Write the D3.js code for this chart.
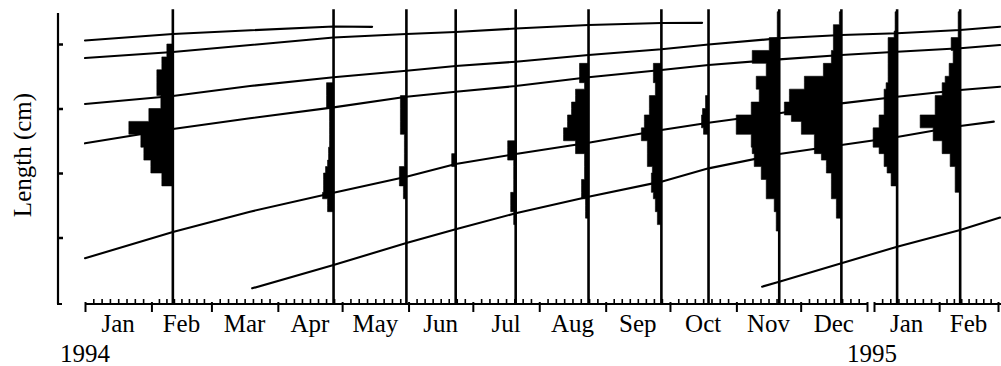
<!DOCTYPE html>
<html><head><meta charset="utf-8">
<script src="https://cdn.jsdelivr.net/npm/d3@7"></script>
<style>
html,body{margin:0;padding:0;background:#fff;}
svg{display:block;}
text{font-family:"Liberation Serif","Times New Roman",serif;font-size:25px;fill:#000;}
</style></head><body>
<svg id="chart" width="1001" height="366"></svg>
<script>
// ---------- data ----------
const monthLabels = ["Jan","Feb","Mar","Apr","May","Jun","Jul","Aug","Sep","Oct","Nov","Dec","Jan","Feb"];
const monthStarts = ["1994-01-01","1994-02-01","1994-03-01","1994-04-01","1994-05-01","1994-06-01",
  "1994-07-01","1994-08-01","1994-09-01","1994-10-01","1994-11-01","1994-12-01","1995-01-01","1995-02-01"];
const periodEnd = "1995-03-01";
const yearLabels = ["1994","1995"];
const yearDates = ["1994-01-01","1995-01-01"];
const lengthTicks = [5,10,15,20];
const yAxisLabel = "Length (cm)";

const sampleDates = ["1994-02-11","1994-04-27","1994-05-31","1994-06-23","1994-07-21","1994-08-24",
  "1994-09-27","1994-10-19","1994-11-21","1994-12-20","1995-01-12","1995-02-11"];
const binWidth = 0.5;
// lower edge (cm) of the first length class of each sample
const histStart = [9.0, 7.0, 8.0, 10.5, 6.0, 6.5, 6.0, 13.0, 5.5, 6.5, 9.0, 8.5];
// frequencies per 0.5 cm class, from small to large
const freq_1994_02 = [11,11,22,22,29,29,32,32,44,44,24,24,12,12,16,16,16,16,11,11,6,6];
const freq_1994_04 = [6,6,11,10,10,10,8,6,5,5,4,4,4,4,4,4,7,7,7,7];
const freq_1994_05 = [3,3,7,7,7,2,2,2,2,2,6,6,6,6,6,6];
const freq_1994_06 = [4,4];
const freq_1994_07 = [2,2,5,5,5,2,2,2,2,2,8,8,8];
const freq_1994_08 = [3,3,3,7,7,7,4,4,4,4,13,13,25,25,21,21,17,17,13,13,4,9,9,9];
const freq_1994_09 = [4,4,6,6,8,10,10,10,9,14,14,14,14,20,20,17,17,12,12,12,6,6,8,8,8];
const freq_1994_10 = [5,7,7,6,3,3];
const freq_1994_11 = [3,3,3,5,5,13,13,13,18,18,25,25,27,28,28,43,43,43,28,28,20,20,23,23,13,13,27,27,10,10,2,2,2,2];
const freq_1994_12 = [5,5,5,10,10,10,10,15,15,20,27,27,27,40,40,50,57,57,52,52,37,37,18,18,10,10,8,8,8,8,2,2];
const freq_1995_01 = [6,6,10,13,13,18,24,24,24,18,18,13,13,13,13,11,9,9,9,9,9,9,9,3,2,2,2];
const freq_1995_02 = [5,5,5,5,10,10,18,18,27,27,40,40,25,25,25,18,18,15,11,11,7,7,9,9,2,2,2,2];
const histFreqs = [freq_1994_02,freq_1994_04,freq_1994_05,freq_1994_06,freq_1994_07,freq_1994_08,
  freq_1994_09,freq_1994_10,freq_1994_11,freq_1994_12,freq_1995_01,freq_1995_02];

// growth curves: [date, length cm]
const cohortA = [["1994-01-01",20.27],["1994-02-11",20.78],["1994-04-27",21.36],["1994-05-15",21.33]];
const cohortB = [["1994-01-01",18.91],["1994-02-11",19.38],["1994-04-27",20.50],["1994-05-31",20.78],
  ["1994-06-23",20.93],["1994-07-21",21.20],["1994-08-24",21.47],["1994-09-27",21.63],["1994-10-16",21.64]];
const cohortC = [["1994-01-01",15.35],["1994-02-11",15.97],["1994-03-19",16.74],["1994-04-27",17.42],
  ["1994-05-31",17.93],["1994-06-23",18.29],["1994-07-21",18.63],["1994-08-24",19.15],["1994-09-27",19.59],
  ["1994-10-19",19.96],["1994-11-21",20.44],["1994-12-20",20.70],["1995-01-12",20.83],["1995-02-11",21.09],["1995-03-02",21.34]];
const cohortD = [["1994-01-01",12.30],["1994-02-11",13.41],["1994-03-19",14.24],["1994-04-27",15.09],
  ["1994-05-31",15.91],["1994-06-23",16.30],["1994-07-21",16.74],["1994-08-24",17.42],["1994-09-27",17.98],
  ["1994-10-19",18.37],["1994-11-21",18.81],["1994-12-20",19.15],["1995-01-12",19.40],["1995-02-11",19.67],["1995-03-02",19.92]];
const cohortE = [["1994-01-01",3.39],["1994-02-11",5.43],["1994-03-19",7.0],["1994-04-27",8.47],
  ["1994-05-31",9.71],["1994-06-23",10.70],["1994-07-21",11.47],["1994-08-24",12.35],["1994-09-27",13.33],
  ["1994-10-19",13.90],["1994-11-21",14.63],["1994-12-20",15.40],["1995-01-12",15.91],["1995-02-11",16.43],["1995-03-02",16.69]];
const cohortF = [["1994-03-20",1.06],["1994-04-27",2.87],["1994-05-31",4.57],["1994-06-23",5.64],
  ["1994-07-21",6.88],["1994-08-24",8.16],["1994-09-27",9.33],["1994-10-19",10.36],["1994-11-21",11.47],
  ["1994-12-20",12.17],["1995-01-12",12.79],["1995-02-11",13.64],["1995-02-27",13.98]];
const cohortG = [["1994-11-13",1.19],["1994-11-21",1.57],["1994-12-20",3.0],["1995-01-12",4.29],
  ["1995-02-11",5.58],["1995-03-02",6.55]];
const cohorts = [cohortA,cohortB,cohortC,cohortD,cohortE,cohortF,cohortG];

// ---------- scales ----------
const parse = d3.utcParse("%Y-%m-%d");
const breakStart = new Date(Date.UTC(1994,11,31,23));
const x = d3.scaleUtc()
  .domain([parse("1994-01-01"), breakStart, parse("1995-01-01"), parse(periodEnd)])
  .range([85, 867, 874, 998]);
const y = d3.scaleLinear().domain([0, 20]).range([302, 44]);
const fw = d3.scaleLinear().domain([0, 50]).range([0, 50]);

const svg = d3.select("#chart");
svg.append("rect").attr("width",1001).attr("height",366).attr("fill","#fff");

const baseY = 304;
const axisX = 58;

// ---------- growth curves ----------
const line = d3.line().x(d => x(parse(d[0]))).y(d => y(d[1]));
svg.append("g").selectAll("path").data(cohorts).join("path")
  .attr("d", line).attr("fill","none").attr("stroke","#000")
  .attr("stroke-width",2.1).attr("stroke-linecap","round");

// ---------- histograms (one step outline per sample) ----------
function histPath(i) {
  const xd = x(parse(sampleDates[i]));
  const p = d3.path();
  const f = histFreqs[i], s = histStart[i];
  p.moveTo(xd, y(s));
  f.forEach((v, j) => {
    p.lineTo(xd - fw(v), y(s + j * binWidth));
    p.lineTo(xd - fw(v), y(s + (j + 1) * binWidth));
  });
  p.lineTo(xd, y(s + f.length * binWidth));
  p.closePath();
  return p.toString();
}
svg.append("g").selectAll("path").data(sampleDates).join("path")
  .attr("d", (d, i) => histPath(i)).attr("fill","#000").attr("stroke","#000").attr("stroke-width",0.6);

// ---------- sample lines ----------
svg.append("g").selectAll("line").data(sampleDates).join("line")
  .attr("x1", d => x(parse(d))).attr("x2", d => x(parse(d)))
  .attr("y1", baseY).attr("y2", y(22.7))
  .attr("stroke","#000").attr("stroke-width",2.6);

// ---------- y axis ----------
const yAxis = d3.axisRight(y).tickValues(lengthTicks).tickSize(5).tickFormat("");
const yg = svg.append("g").attr("transform",`translate(${axisX},0)`).call(yAxis);
yg.select(".domain").remove();
yg.selectAll(".tick line").attr("stroke","#000").attr("stroke-width",2.5);
svg.append("line").attr("x1",axisX).attr("x2",axisX).attr("y1",y(22.4)).attr("y2",baseY)
  .attr("stroke","#000").attr("stroke-width",2.2);
svg.append("line").attr("x1",axisX-1).attr("x2",axisX+4).attr("y1",baseY).attr("y2",baseY)
  .attr("stroke","#000").attr("stroke-width",2);
svg.append("text").attr("transform","translate(31,155) rotate(-90)")
  .attr("text-anchor","middle").text(yAxisLabel);

// ---------- x axis ----------
const starts = monthStarts.map(parse);
const ends = starts.slice(1).concat([parse(periodEnd)]);
ends[11] = breakStart;
svg.append("line").attr("x1",x(starts[0])).attr("x2",x(breakStart)).attr("y1",baseY).attr("y2",baseY)
  .attr("stroke","#000").attr("stroke-width",2.2);
svg.append("line").attr("x1",x(starts[12])).attr("x2",x(parse(periodEnd))+3).attr("y1",baseY).attr("y2",baseY)
  .attr("stroke","#000").attr("stroke-width",2.2);
const majorDates = starts.concat([breakStart, parse(periodEnd)]);
const xMajor = d3.axisBottom(x).tickValues(majorDates).tickSize(10).tickFormat("");
const xg = svg.append("g").attr("transform",`translate(0,${baseY-2})`).call(xMajor);
xg.select(".domain").remove();
xg.selectAll(".tick line").attr("stroke","#000").attr("stroke-width",2);
const minorDates = [];
starts.forEach((s, i) => {
  const interp = d3.interpolateDate(s, ends[i]);
  for (let k = 1; k < 8; k++) minorDates.push(new Date(interp(k / 8).getTime()));
});
const xMinor = d3.axisTop(x).tickValues(minorDates).tickSize(5).tickFormat("");
const xm = svg.append("g").attr("transform",`translate(0,${baseY})`).call(xMinor);
xm.select(".domain").remove();
xm.selectAll(".tick line").attr("stroke","#000").attr("stroke-width",1.6);
svg.append("g").selectAll("text").data(monthLabels).join("text")
  .attr("x", (d, i) => (x(starts[i]) + x(ends[i])) / 2)
  .attr("y", 332).attr("text-anchor","middle").text(d => d);
svg.append("g").selectAll("text").data(yearLabels).join("text")
  .attr("x", (d, i) => x(parse(yearDates[i])) + (i === 0 ? 0 : -2))
  .attr("y", 362).attr("text-anchor","middle").text(d => d);
</script>
</body></html>
